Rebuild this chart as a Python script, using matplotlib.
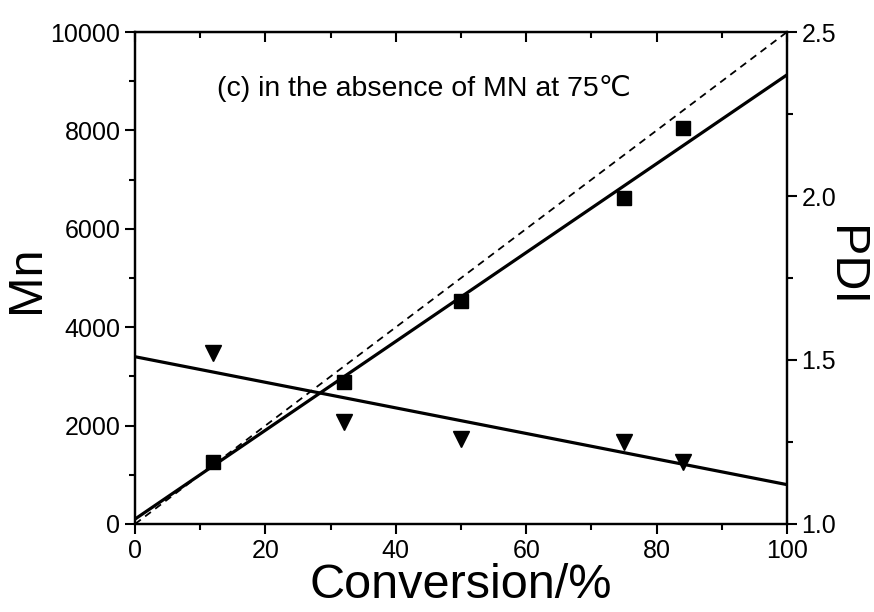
import matplotlib.pyplot as plt
from matplotlib.ticker import MultipleLocator

plt.rcParams['font.family'] = ['Liberation Sans', 'DejaVu Sans']

# conversion (%) and measured values
conv = [12, 32, 50, 75, 84]
mn = [1250, 2880, 4530, 6620, 8050]
pdi = [1.52, 1.31, 1.26, 1.25, 1.19]

# fitted / theoretical lines (endpoints at 0 and 100 %)
fit_x = [0, 100]
mn_fit = [100, 9130]
mn_theory = [0, 10000]
pdi_fit = [1.51, 1.12]

fig = plt.figure(figsize=(8.74, 6.12), dpi=100)
ax = fig.add_axes([0.1545, 0.1438, 0.7460, 0.8039])
ax2 = ax.twinx()

ax.plot(fit_x, mn_theory, 'k--', lw=1.3, dashes=(4, 3))
ax.plot(fit_x, mn_fit, 'k-', lw=2.3)
ax.plot(conv, mn, 'ks', ms=10)
ax2.plot(fit_x, pdi_fit, 'k-', lw=2.3)
ax2.plot(conv, pdi, 'kv', ms=12)

ax.set_xlim(0, 100)
ax.set_ylim(0, 10000)
ax2.set_ylim(1.0, 2.5)

ax.xaxis.set_major_locator(MultipleLocator(20))
ax.xaxis.set_minor_locator(MultipleLocator(10))
ax.yaxis.set_major_locator(MultipleLocator(2000))
ax.yaxis.set_minor_locator(MultipleLocator(1000))
ax2.yaxis.set_major_locator(MultipleLocator(0.5))
ax2.yaxis.set_minor_locator(MultipleLocator(0.25))
ax2.yaxis.set_major_formatter(plt.FormatStrFormatter('%.1f'))

for a in (ax, ax2):
    for s in a.spines.values():
        s.set_linewidth(1.6)

ax.tick_params(which='both', direction='out', width=1.5, labelsize=18,
               top=False, right=False)
ax.tick_params(which='major', length=7)
ax.tick_params(which='minor', length=4)
ax2.tick_params(which='both', direction='out', width=1.5, labelsize=18)
ax2.tick_params(which='major', length=7)
ax2.tick_params(which='minor', length=4)

# top ticks point inward
secx = ax.secondary_xaxis('top')
secx.xaxis.set_major_locator(MultipleLocator(20))
secx.xaxis.set_minor_locator(MultipleLocator(10))
secx.tick_params(which='both', direction='in', width=1.5, labeltop=False)
secx.tick_params(which='major', length=7)
secx.tick_params(which='minor', length=4)

ax.set_xlabel('Conversion/%', fontsize=35, labelpad=0)
ax.set_ylabel('Mn', fontsize=35, va='center')
ax.yaxis.set_label_coords(-0.166, 0.498)
ax2.set_ylabel('PDI', fontsize=35, rotation=270, va='center')
ax2.yaxis.set_label_coords(1.088, 0.524)

ax.text(0.126, 0.885, '(c) in the absence of MN at 75℃', transform=ax.transAxes,
        fontsize=20.5, va='center', ha='left')

fig.savefig('out.png', dpi=100)
